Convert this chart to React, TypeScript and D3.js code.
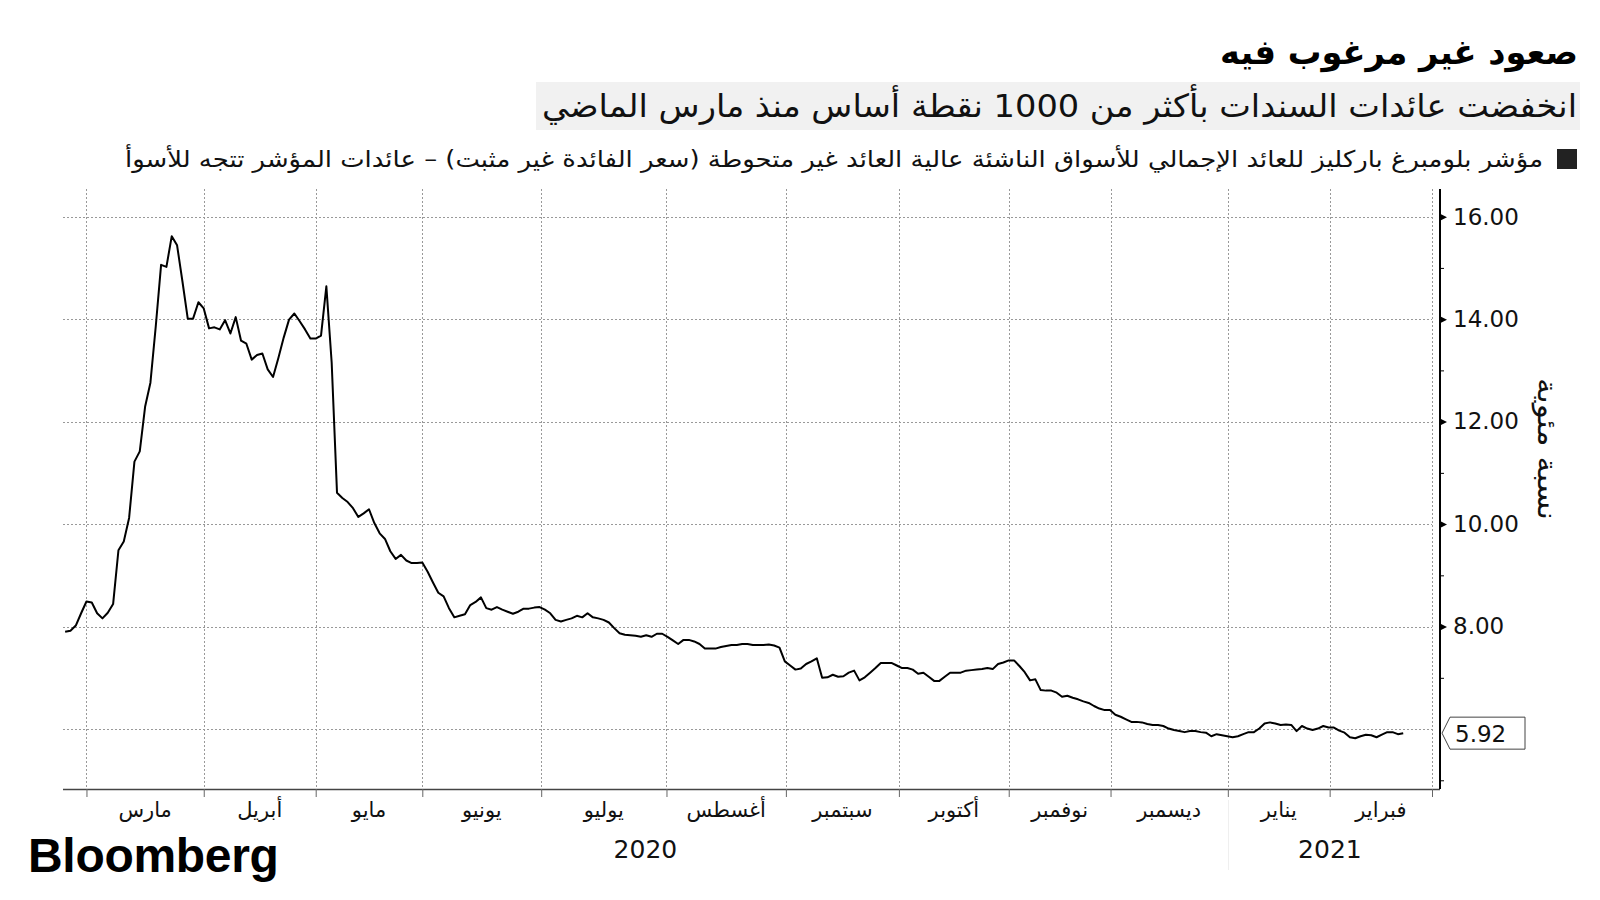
import React, { useEffect, useRef } from 'react';
import { select, scaleLinear, line, axisRight, axisBottom, format } from 'd3';

// daily yield readings (percent), one per trading day, split by stretch of the chart
const yieldsFebToMay = [
  7.90, 7.92, 8.02, 8.26, 8.49, 8.47, 8.26, 8.16, 8.27, 8.44,
  9.49, 9.66, 10.12, 11.22, 11.42, 12.29, 12.76, 13.86, 15.06, 15.02,
  15.62, 15.44, 14.74, 14.01, 14.01, 14.33, 14.21, 13.82, 13.84, 13.80,
  13.98, 13.72, 14.04, 13.58, 13.52, 13.21, 13.30, 13.33, 13.02, 12.87,
  13.24, 13.64, 13.99, 14.11, 13.96, 13.80, 13.62, 13.62, 13.68, 14.64,
  13.15, 10.61, 10.51, 10.43, 10.31, 10.14, 10.21, 10.29, 10.02, 9.82,
  9.71, 9.47, 9.32, 9.40, 9.29, 9.24, 9.24, 9.25, 9.07, 8.86, 8.66,
];
const yieldsJunToAug = [
  8.59, 8.36, 8.18, 8.21, 8.24, 8.42, 8.48, 8.57, 8.36, 8.33,
  8.38, 8.33, 8.29, 8.25, 8.29, 8.35, 8.35, 8.37, 8.38, 8.33,
  8.26, 8.13, 8.10, 8.13, 8.16, 8.21, 8.18, 8.26, 8.18, 8.16,
  8.13, 8.08, 7.97, 7.87, 7.84, 7.83, 7.82, 7.80, 7.83, 7.80,
  7.86, 7.86, 7.80, 7.73, 7.66, 7.74, 7.74, 7.71, 7.66, 7.57,
  7.57, 7.57, 7.60, 7.62, 7.64, 7.64, 7.66, 7.66, 7.64, 7.64, 7.64,
];
const yieldsAugToNov = [
  7.65, 7.63, 7.59, 7.32, 7.24, 7.16, 7.18, 7.27, 7.32, 7.38,
  7.00, 7.01, 7.06, 7.02, 7.03, 7.10, 7.14, 6.95, 7.01, 7.10,
  7.19, 7.29, 7.29, 7.29, 7.24, 7.19, 7.19, 7.16, 7.08, 7.10,
  7.02, 6.94, 6.94, 7.02, 7.10, 7.10, 7.10, 7.14, 7.15, 7.16,
  7.17, 7.19, 7.17, 7.27, 7.30, 7.34, 7.34, 7.23, 7.11, 6.95,
  6.97, 6.76, 6.75, 6.75, 6.71, 6.63, 6.65, 6.61,
];
const yieldsNovToFeb = [
  6.58, 6.54, 6.51, 6.45, 6.40, 6.37, 6.37, 6.28, 6.24, 6.19,
  6.14, 6.14, 6.13, 6.10, 6.08, 6.08, 6.06, 6.01, 5.98, 5.96,
  5.94, 5.96, 5.96, 5.94, 5.93, 5.86, 5.90, 5.88, 5.86, 5.84,
  5.86, 5.90, 5.94, 5.94, 6.01, 6.11, 6.13, 6.11, 6.08, 6.09,
  6.08, 5.96, 6.06, 6.01, 5.98, 6.01, 6.06, 6.03, 6.03, 5.97,
  5.93, 5.84, 5.82, 5.86, 5.89, 5.88, 5.84, 5.89, 5.94, 5.94,
  5.90, 5.92,
];

// month labels and the trading-day position where each month starts
const monthLabels = ['مارس', 'أبريل', 'مايو', 'يونيو', 'يوليو', 'أغسطس', 'سبتمبر', 'أكتوبر', 'نوفمبر', 'ديسمبر', 'يناير', 'فبراير'];
const monthStarts = [4, 26, 47, 67, 89.3, 112.8, 135.2, 156.4, 177, 196.1, 218.1, 237.2, 256.4];
const yearLabels = ['2020', '2021'];
const yearBreaks = [-0.4, 218.1, 256.4];

const yTicks = [8, 10, 12, 14, 16];
const yGrid = [6, 8, 10, 12, 14, 16];
const yMinorTicks = [5, 7, 9, 11, 13, 15];

const title = 'صعود غير مرغوب فيه';
const subtitle = 'انخفضت عائدات السندات بأكثر من 1000 نقطة أساس منذ مارس الماضي';
const legendLabel = 'مؤشر بلومبرغ باركليز للعائد الإجمالي للأسواق الناشئة عالية العائد غير متحوطة (سعر الفائدة غير مثبت) – عائدات المؤشر تتجه للأسوأ';
const yAxisTitle = 'نسبة مئوية';

const FONT = "'DejaVu Sans', sans-serif";

const YieldChart: React.FC = () => {
  const svgRef = useRef<SVGSVGElement>(null);

  useEffect(() => {
    if (!svgRef.current) return;
    document.body.style.margin = '0';

    const values = [...yieldsFebToMay, ...yieldsJunToAug, ...yieldsAugToNov, ...yieldsNovToFeb];
    const width = 1600;
    const height = 900;
    const left = 63;
    const axisX = 1440;
    const top = 189;
    const bottom = 789;

    const svg = select(svgRef.current);
    svg.selectAll('*').remove();
    svg.attr('width', width).attr('height', height).attr('viewBox', `0 0 ${width} ${height}`);

    svg.append('rect').attr('width', width).attr('height', height).attr('fill', '#fff');

    const x = scaleLinear().domain([yearBreaks[0], monthStarts[monthStarts.length - 1]]).range([left, 1432]);
    const y = scaleLinear().domain([4.83, 16.54]).range([bottom, top]);
    const gridRight = x(monthStarts[monthStarts.length - 1]);

    // header
    svg.append('text')
      .attr('x', 1578).attr('y', 64)
      .attr('direction', 'rtl').attr('text-anchor', 'start')
      .attr('font-family', FONT).attr('font-weight', 'bold').attr('font-size', 34)
      .attr('textLength', 358).attr('lengthAdjust', 'spacingAndGlyphs')
      .attr('fill', '#000')
      .text(title);

    svg.append('rect')
      .attr('x', 536).attr('y', 82).attr('width', 1044).attr('height', 48)
      .attr('fill', '#f1f1f1');
    svg.append('text')
      .attr('x', 1577).attr('y', 117)
      .attr('direction', 'rtl').attr('text-anchor', 'start')
      .attr('font-family', FONT).attr('font-size', 32)
      .attr('textLength', 1035).attr('lengthAdjust', 'spacingAndGlyphs')
      .attr('fill', '#111')
      .text(subtitle);

    svg.append('rect')
      .attr('x', 1557).attr('y', 149).attr('width', 20).attr('height', 20)
      .attr('fill', '#222');
    svg.append('text')
      .attr('x', 1543).attr('y', 167)
      .attr('direction', 'rtl').attr('text-anchor', 'start')
      .attr('font-family', FONT).attr('font-size', 23)
      .attr('textLength', 1418).attr('lengthAdjust', 'spacingAndGlyphs')
      .attr('fill', '#111')
      .text(legendLabel);

    // grid
    const grid = svg.append('g').attr('stroke', '#999').attr('stroke-width', 1).attr('stroke-dasharray', '2,2');
    grid.selectAll('line.h').data(yGrid).enter().append('line')
      .attr('class', 'h')
      .attr('x1', left).attr('x2', gridRight)
      .attr('y1', d => Math.round(y(d)) + 0.5).attr('y2', d => Math.round(y(d)) + 0.5);
    grid.selectAll('line.v').data(monthStarts).enter().append('line')
      .attr('class', 'v')
      .attr('x1', d => Math.round(x(d)) + 0.5).attr('x2', d => Math.round(x(d)) + 0.5)
      .attr('y1', top).attr('y2', bottom);

    // x axis
    const xAxis = svg.append('g')
      .attr('transform', `translate(0,${bottom})`)
      .call(axisBottom(x).tickValues(monthStarts).tickSize(8).tickFormat(() => '').tickSizeOuter(0));
    xAxis.select('.domain').attr('stroke', '#444').attr('stroke-width', 1.5).attr('d', `M${left},0.5H${axisX}`);
    xAxis.selectAll('.tick line').attr('stroke', '#666');

    svg.append('g').selectAll('text').data(monthLabels).enter().append('text')
      .attr('x', (d, i) => (x(monthStarts[i]) + x(monthStarts[i + 1])) / 2)
      .attr('y', 817)
      .attr('text-anchor', 'middle')
      .attr('font-family', FONT).attr('font-size', 21)
      .attr('fill', '#111')
      .text(d => d);

    svg.append('g').selectAll('text').data(yearLabels).enter().append('text')
      .attr('x', (d, i) => (x(yearBreaks[i]) + x(yearBreaks[i + 1])) / 2)
      .attr('y', 858)
      .attr('text-anchor', 'middle')
      .attr('font-family', FONT).attr('font-size', 25)
      .attr('fill', '#111')
      .text(d => d);

    svg.append('line')
      .attr('x1', Math.round(x(yearBreaks[1])) + 0.5).attr('x2', Math.round(x(yearBreaks[1])) + 0.5)
      .attr('y1', 800).attr('y2', 870)
      .attr('stroke', '#efefef');

    // y axis (right)
    const yAxis = svg.append('g')
      .attr('transform', `translate(${axisX},0)`)
      .call(axisRight(y).tickValues(yTicks).tickSize(0).tickPadding(13).tickFormat(d => format('.2f')(d as number)));
    yAxis.select('.domain').attr('stroke', '#000').attr('stroke-width', 2).attr('d', `M0,${top}V${bottom}`);
    yAxis.selectAll('.tick text')
      .attr('font-family', FONT).attr('font-size', 23).attr('fill', '#111');
    yAxis.selectAll('.tick').append('path')
      .attr('d', 'M0,-3.5L7,0L0,3.5Z')
      .attr('fill', '#000');

    const yMinor = svg.append('g')
      .attr('transform', `translate(${axisX},0)`)
      .call(axisRight(y).tickValues(yMinorTicks).tickSize(4).tickFormat(() => ''));
    yMinor.select('.domain').remove();
    yMinor.selectAll('.tick line').attr('stroke', '#000');

    svg.append('text')
      .attr('transform', `translate(1538,449) rotate(90)`)
      .attr('direction', 'rtl')
      .attr('text-anchor', 'middle')
      .attr('font-family', FONT).attr('font-size', 27)
      .attr('textLength', 142).attr('lengthAdjust', 'spacingAndGlyphs')
      .attr('fill', '#111')
      .text(yAxisTitle);

    // series
    const path = line<number>().x((d, i) => x(i)).y(d => y(d));
    svg.append('path')
      .datum(values)
      .attr('d', path)
      .attr('fill', 'none')
      .attr('stroke', '#000')
      .attr('stroke-width', 2)
      .attr('stroke-linejoin', 'round');

    // last value tag
    const last = values[values.length - 1];
    const ly = y(last);
    svg.append('path')
      .attr('d', `M${axisX + 2},${ly}L${axisX + 10},${ly - 16}H${axisX + 85}V${ly + 16}H${axisX + 10}Z`)
      .attr('fill', '#fff')
      .attr('stroke', '#444')
      .attr('stroke-width', 1);
    svg.append('text')
      .attr('x', axisX + 15).attr('y', ly + 8.5)
      .attr('font-family', FONT).attr('font-size', 23)
      .attr('fill', '#111')
      .text(format('.2f')(last));

    // logo
    svg.append('text')
      .attr('x', 28).attr('y', 872)
      .attr('font-family', "'Liberation Sans', Arial, sans-serif")
      .attr('font-weight', 'bold').attr('font-size', 48)
      .attr('letter-spacing', -0.3)
      .attr('fill', '#000')
      .text('Bloomberg');
  }, []);

  return <svg ref={svgRef} style={{ display: 'block' }} />;
};

export default function App() {
  return <YieldChart />;
}
